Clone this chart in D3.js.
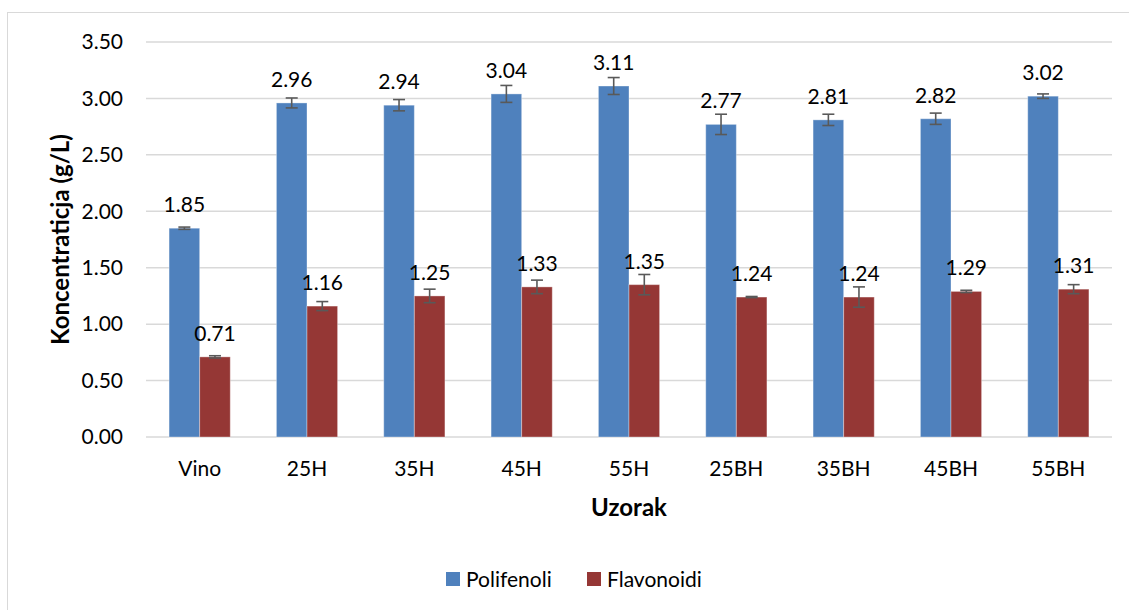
<!DOCTYPE html>
<html>
<head>
<meta charset="utf-8">
<script src="https://cdn.jsdelivr.net/npm/d3@7"></script>
<style>
  body { margin: 0; background: #fff; }
  svg text { font-family: Lato, "Open Sans", sans-serif; fill: #000; }
</style>
</head>
<body>
<div class="canvas"></div>
<script>
'use strict';

const categories = ['Vino', '25H', '35H', '45H', '55H', '25BH', '35BH', '45BH', '55BH'];
const seriesNames = ['Polifenoli', 'Flavonoidi'];
const polifenoli = [1.85, 2.96, 2.94, 3.04, 3.11, 2.77, 2.81, 2.82, 3.02];
const flavonoidi = [0.71, 1.16, 1.25, 1.33, 1.35, 1.24, 1.24, 1.29, 1.31];
const polifenoliErr = [0.01, 0.044, 0.05, 0.075, 0.075, 0.09, 0.05, 0.05, 0.02];
const flavonoidiErr = [0.01, 0.04, 0.06, 0.06, 0.09, 0.005, 0.09, 0.01, 0.04];
const yTicks = [0, 0.5, 1, 1.5, 2, 2.5, 3, 3.5];

const colours = ['#4f81bd', '#953735'];

const dimensions = { width: 1129, height: 610 };
const plot = { left: 146, right: 1112, top: 42, bottom: 437 };
const fontSize = '21px';
const titleSize = '24px';

const svg = d3.select('.canvas')
    .append('svg')
    .attr('width', dimensions.width)
    .attr('height', dimensions.height);

// outer chart frame
svg.append('rect')
    .attr('x', 7.5).attr('y', 12.5)
    .attr('width', dimensions.width).attr('height', dimensions.height)
    .attr('fill', 'none')
    .attr('stroke', '#d9d9d9');

const x = d3.scaleBand()
    .domain(categories)
    .range([plot.left, plot.right])
    .paddingInner(0.43)
    .paddingOuter(0.215);

const xSub = d3.scaleBand()
    .domain(seriesNames)
    .range([0, x.bandwidth()]);

const y = d3.scaleLinear()
    .domain([0, 3.5])
    .range([plot.bottom, plot.top]);

// gridlines
svg.append('g')
    .selectAll('line')
    .data(yTicks)
    .join('line')
    .attr('x1', plot.left).attr('x2', plot.right)
    .attr('y1', d => y(d)).attr('y2', d => y(d))
    .attr('stroke', '#d9d9d9')
    .attr('stroke-width', 1.5);

// y axis tick labels
const yAxis = svg.append('g')
    .attr('transform', `translate(${plot.left},0)`)
    .call(d3.axisLeft(y).tickValues(yTicks).tickFormat(d3.format('.2f')).tickSize(0).tickPadding(23));
yAxis.select('.domain').remove();
yAxis.selectAll('text').style('font-size', fontSize).attr('fill', '#000');

// x axis tick labels
const xAxis = svg.append('g')
    .attr('transform', `translate(0,${plot.bottom})`)
    .call(d3.axisBottom(x).tickSize(0).tickPadding(24));
xAxis.select('.domain').remove();
xAxis.selectAll('text').style('font-size', fontSize).attr('fill', '#000');

const rows = categories.map((c, i) => ({
    category: c,
    values: [
        { name: seriesNames[0], value: polifenoli[i], err: polifenoliErr[i] },
        { name: seriesNames[1], value: flavonoidi[i], err: flavonoidiErr[i] }
    ]
}));

const groups = svg.append('g')
    .selectAll('g')
    .data(rows)
    .join('g')
    .attr('transform', d => `translate(${x(d.category)},0)`);

groups.selectAll('rect')
    .data(d => d.values)
    .join('rect')
    .attr('x', d => xSub(d.name))
    .attr('y', d => y(d.value))
    .attr('width', xSub.bandwidth())
    .attr('height', d => y(0) - y(d.value))
    .attr('fill', (d, i) => colours[i])
    .attr('stroke', 'rgba(255,255,255,0.35)')
    .attr('stroke-width', 1);

// error bars
const errs = groups.selectAll('g.err')
    .data(d => d.values)
    .join('g')
    .attr('class', 'err')
    .attr('stroke', '#595959')
    .attr('stroke-width', 1.6);

const cx = d => xSub(d.name) + xSub.bandwidth() / 2;

errs.append('line')
    .attr('x1', cx).attr('x2', cx)
    .attr('y1', d => y(d.value + d.err)).attr('y2', d => y(d.value - d.err));
errs.append('line')
    .attr('x1', d => cx(d) - 6).attr('x2', d => cx(d) + 6)
    .attr('y1', d => y(d.value + d.err)).attr('y2', d => y(d.value + d.err));
errs.append('line')
    .attr('x1', d => cx(d) - 6).attr('x2', d => cx(d) + 6)
    .attr('y1', d => y(d.value - d.err)).attr('y2', d => y(d.value - d.err));

// value labels
groups.selectAll('text.val')
    .data(d => d.values)
    .join('text')
    .attr('class', 'val')
    .attr('x', cx)
    .attr('y', d => y(d.value) - 16)
    .attr('text-anchor', 'middle')
    .style('font-size', fontSize)
    .text(d => d3.format('.2f')(d.value));

// axis titles
svg.append('text')
    .attr('transform', `translate(69,${(plot.top + plot.bottom) / 2}) rotate(-90)`)
    .attr('text-anchor', 'middle')
    .style('font-size', titleSize)
    .style('font-weight', 'bold')
    .text('Koncentraticja (g/L)');

svg.append('text')
    .attr('x', (plot.left + plot.right) / 2)
    .attr('y', 516)
    .attr('text-anchor', 'middle')
    .style('font-size', titleSize)
    .style('font-weight', 'bold')
    .text('Uzorak');

// legend
const legend = svg.append('g').attr('transform', 'translate(446,572)');
const legendX = [0, 141];
seriesNames.forEach((name, i) => {
    const item = legend.append('g').attr('transform', `translate(${legendX[i]},0)`);
    item.append('rect')
        .attr('width', 14).attr('height', 14)
        .attr('fill', colours[i]);
    item.append('text')
        .attr('x', 20).attr('y', 15)
        .style('font-size', fontSize)
        .text(name);
});
</script>
</body>
</html>
